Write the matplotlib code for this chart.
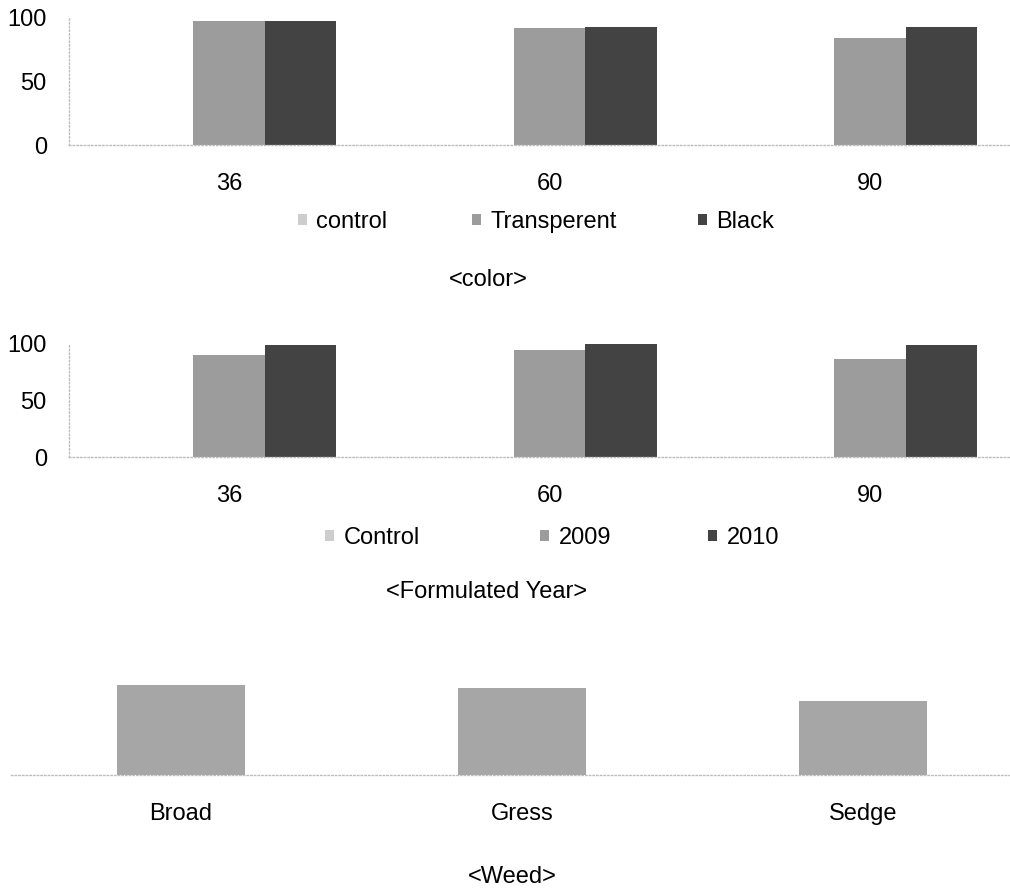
import matplotlib
matplotlib.use("Agg")
import matplotlib.pyplot as plt
import numpy as np

plt.rcParams['font.family'] = ['Liberation Sans', 'DejaVu Sans']

# ---- data ----
days = ["36", "60", "90"]
color_series = ["control", "Transperent", "Black"]
color_control = [0, 0, 0]
color_transparent = [98, 92, 84.5]
color_black = [98, 93, 93]

year_series = ["Control", "2009", "2010"]
year_control = [0, 0, 0]
year_2009 = [90.5, 95, 86.5]
year_2010 = [99.5, 100, 99.5]

weeds = ["Broad", "Gress", "Sedge"]
weed_values = [71, 68.5, 58.3]

W, H = 1010, 892
FS = 17
c_light, c_mid, c_dark = "#cdcdcd", "#9c9c9c", "#434343"
axis_col = "#bdbdbd"

fig = plt.figure(figsize=(W / 100, H / 100), dpi=100)


def px_axes(left, top, right, bottom):
    return fig.add_axes([left / W, 1 - bottom / H, (right - left) / W, (bottom - top) / H])


def style(ax, show_y=True):
    for s in ("top", "right"):
        ax.spines[s].set_visible(False)
    ax.spines["bottom"].set_color(axis_col)
    ax.spines["bottom"].set_linestyle(":")
    ax.spines["bottom"].set_linewidth(1.0)
    if show_y:
        ax.spines["left"].set_color(axis_col)
        ax.spines["left"].set_linestyle(":")
        ax.spines["left"].set_linewidth(1.0)
    else:
        ax.spines["left"].set_visible(False)
        ax.set_yticks([])
    ax.tick_params(length=0, labelsize=FS)
    ax.tick_params(axis="x", pad=20.5)
    ax.tick_params(axis="y", pad=16)


def legend_at(handle, label, x_px, y_px):
    lg = fig.legend([handle], [label], loc="center left",
                    bbox_to_anchor=(x_px / W, 1 - y_px / H), frameon=False,
                    borderpad=0, borderaxespad=0, handlelength=0.38, handleheight=0.38,
                    handletextpad=0.4, fontsize=FS)
    return lg


def grouped(ax, vals, series, colors, top, legend_x, legend_y):
    x = np.arange(len(days))
    w = 0.223
    bars = []
    for i, (v, c) in enumerate(zip(vals, colors)):
        b = ax.bar(x + (i - 1) * w, v, width=w, color=c, linewidth=0)
        bars.append(b)
    ax.set_xlim(-0.5, len(days) - 0.5)
    ax.set_ylim(0, top)
    ax.set_xticks(x)
    ax.set_xticklabels(days)
    ax.set_yticks([0, 50, 100])
    style(ax)
    for b, lab, lx in zip(bars, series, legend_x):
        legend_at(b, lab, lx, legend_y)


# Chart 1: color
ax1 = px_axes(69, 18, 1030, 145)
grouped(ax1, [color_control, color_transparent, color_black], color_series,
        [c_light, c_mid, c_dark], 100, [298, 472, 698], 222)
fig.text(488 / W, 1 - 280 / H, "<color>", ha="center", va="center", fontsize=FS)

# Chart 2: formulated year
ax2 = px_axes(69, 344, 1030, 457)
grouped(ax2, [year_control, year_2009, year_2010], year_series,
        [c_light, c_mid, c_dark], 100, [325, 540, 708], 538)
fig.text(487 / W, 1 - 592 / H, "<Formulated Year>", ha="center", va="center", fontsize=FS)

# Chart 3: weed
ax3 = px_axes(10.5, 648, 1033.5, 775)
xw = np.arange(len(weeds))
ax3.bar(xw, weed_values, width=0.375, color="#a6a6a6", linewidth=0)
ax3.set_xlim(-0.5, len(weeds) - 0.5)
ax3.set_ylim(0, 100)
ax3.set_xticks(xw)
ax3.set_xticklabels(weeds)
style(ax3, show_y=False)
fig.text(512 / W, 1 - 877 / H, "<Weed>", ha="center", va="center", fontsize=FS)

fig.savefig("out.png", dpi=100)
